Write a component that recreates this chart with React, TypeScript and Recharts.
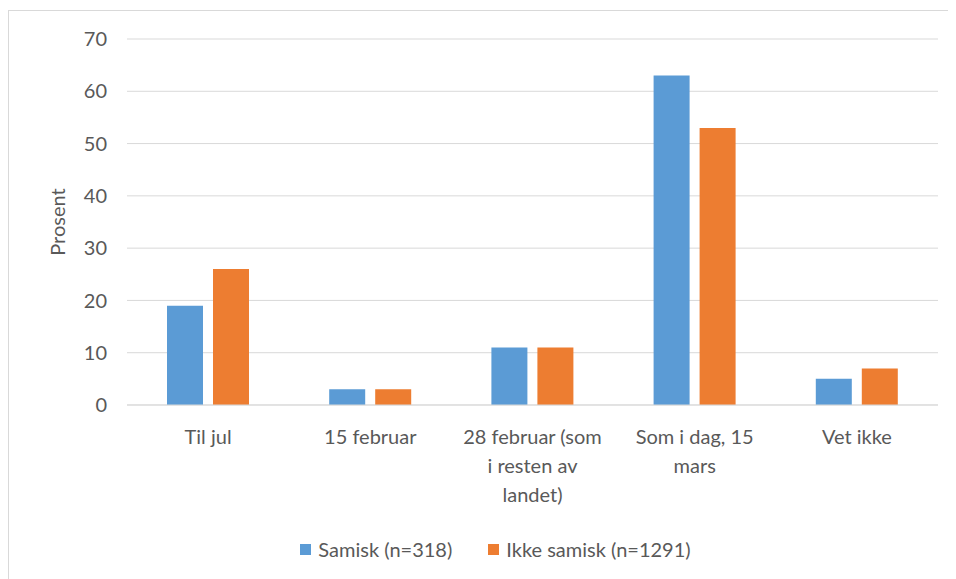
// @ts-nocheck
import { BarChart, Bar, XAxis, YAxis, CartesianGrid, Legend } from "recharts";

const categories = ["Til jul", "15 februar", "28 februar (som i resten av landet)", "Som i dag, 15 mars", "Vet ikke"];
const samisk = [19, 3, 11, 63, 5];
const ikkeSamisk = [26, 3, 11, 53, 7];
const yTicks = [0, 10, 20, 30, 40, 50, 60, 70];

const seriesKeys = ["samisk", "ikkeSamisk"];
const seriesNames = { samisk: "Samisk (n=318)", ikkeSamisk: "Ikke samisk (n=1291)" };
const colors = { samisk: "#5b9bd5", ikkeSamisk: "#ed7d31" };

const FONT = "Lato, 'Open Sans', sans-serif";
const TEXT = "#595959";
const FS = 20;
const WRAP = 140;

const data = categories.map((c, i) => ({ name: c, samisk: samisk[i], ikkeSamisk: ikkeSamisk[i] }));

let ctx = null;
function wrap(label) {
  if (!ctx) {
    ctx = document.createElement("canvas").getContext("2d");
    ctx.font = `${FS}px Lato`;
  }
  const lines = [];
  let cur = "";
  label.split(" ").forEach((w) => {
    const next = cur ? cur + " " + w : w;
    if (cur && ctx.measureText(next).width > WRAP) {
      lines.push(cur);
      cur = w;
    } else cur = next;
  });
  if (cur) lines.push(cur);
  return lines;
}

function CategoryTick({ x, y, payload }) {
  const lines = wrap(payload.value);
  return (
    <text x={x} y={y + 31} textAnchor="middle" fill={TEXT} fontSize={FS} fontFamily={FONT}>
      {lines.map((l, i) => (
        <tspan key={i} x={x} dy={i === 0 ? 0 : 29}>
          {l}
        </tspan>
      ))}
    </text>
  );
}

function LegendContent() {
  return (
    <div style={{ display: "flex", justifyContent: "center", gap: 36, fontFamily: FONT, fontSize: FS, color: TEXT }}>
      {seriesKeys.map((k) => (
        <div key={k} style={{ display: "flex", alignItems: "center" }}>
          <span style={{ width: 11, height: 11, background: colors[k], marginRight: 7, display: "inline-block" }} />
          {seriesNames[k]}
        </div>
      ))}
    </div>
  );
}

export default function App() {
  return (
    <div style={{ position: "relative", width: 948, height: 571 }}>
      <div
        style={{
          position: "absolute",
          left: 0,
          top: 2,
          width: 948,
          height: 569,
          borderLeft: "1.5px solid #d9d9d9",
          borderTop: "1.5px solid #d9d9d9",
          boxSizing: "border-box",
        }}
      />
      <BarChart
        width={948}
        height={571}
        data={data}
        margin={{ top: 31, right: 18, left: 45, bottom: 16 }}
        barSize={36}
        barGap={10}
        style={{ position: "absolute", left: 0, top: 0 }}
      >
        <CartesianGrid vertical={false} stroke="#d9d9d9" />
        <XAxis
          dataKey="name"
          height={132}
          interval={0}
          tickLine={false}
          axisLine={{ stroke: "#d9d9d9" }}
          tick={<CategoryTick />}
        />
        <YAxis
          width={74}
          domain={[0, 70]}
          ticks={yTicks}
          tickLine={false}
          axisLine={false}
          tickMargin={14}
          tick={{ fill: TEXT, fontSize: FS, fontFamily: FONT }}
          label={{
            value: "Prosent",
            angle: -90,
            position: "insideLeft",
            style: { textAnchor: "middle", fill: TEXT, fontSize: FS, fontFamily: FONT },
          }}
        />
        <Legend verticalAlign="bottom" height={26} content={<LegendContent />} />
        <Bar dataKey="samisk" name={seriesNames.samisk} fill={colors.samisk} isAnimationActive={false} />
        <Bar dataKey="ikkeSamisk" name={seriesNames.ikkeSamisk} fill={colors.ikkeSamisk} isAnimationActive={false} />
      </BarChart>
    </div>
  );
}
